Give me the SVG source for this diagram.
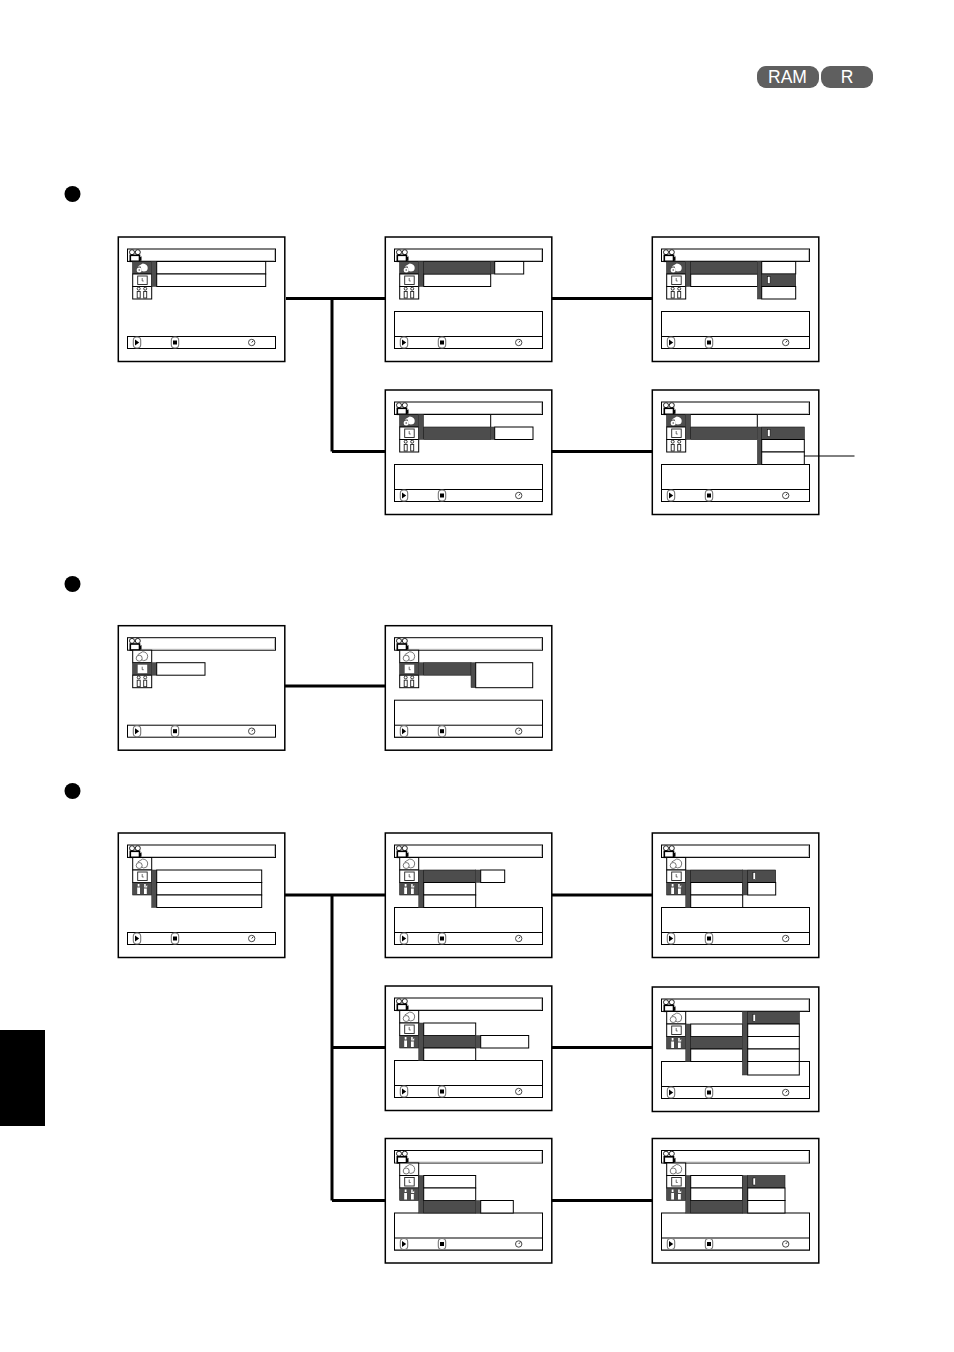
<svg xmlns="http://www.w3.org/2000/svg" xmlns:xlink="http://www.w3.org/1999/xlink" width="954" height="1352" viewBox="0 0 954 1352">
<style>
.fr{fill:#fff;stroke:#000;stroke-width:1.5}
.b{fill:#fff;stroke:#000;stroke-width:1}
.w{fill:#fff;stroke:#000;stroke-width:1}
.d{fill:#4d4d4d;stroke:#111;stroke-width:.6}
.m{fill:#4d4d4d;stroke:#333;stroke-width:.5}
.ol{fill:none;stroke:#555;stroke-width:.8}
.ok{fill:none;stroke:#222;stroke-width:.9}
.wh{fill:#fff}
.conn{fill:none;stroke:#000;stroke-width:3}
.lead{fill:none;stroke:#000;stroke-width:1}
.badge{fill:#5f5f5f}
.bt{font-family:"Liberation Sans",Arial,sans-serif;font-size:17.5px;fill:#fff;text-anchor:middle}
.btn{fill:#fff;stroke:#777;stroke-width:1.1}
</style>
<defs>
<g id="chrome">
<rect class="fr" x="0.300" y="0" width="166.500" height="124.500"/>
<rect class="b" x="9.500" y="12" width="148" height="12.500"/>
<path d="M156.600 13V23.600H10.500" fill="none" stroke="#bbb" stroke-width="1"/>
<circle cx="14" cy="15.200" r="2.500" fill="#fff" stroke="#222" stroke-width="1"/><circle cx="19.800" cy="15.200" r="2.500" fill="#fff" stroke="#222" stroke-width="1"/>
<rect x="12.300" y="18.300" width="9.200" height="6" fill="#fff" stroke="#000" stroke-width="1.600"/>
<path d="M21.500 20.500l2-1.300v4.500h-2z" fill="#000"/>
</g>
<g id="bar">
<rect class="b" x="9.500" y="99.500" width="148" height="12"/>
<rect class="btn" x="15.300" y="100" width="7.400" height="11" rx="3.400"/>
<path d="M17 102.500l4.200 3-4.200 3z" fill="#000"/>
<rect class="btn" x="53.300" y="100" width="7.400" height="11" rx="3.400"/>
<rect x="55" y="103.500" width="4" height="4" fill="#000"/>
<circle cx="133.700" cy="105.500" r="3.200" fill="#fff" stroke="#333" stroke-width=".9"/>
<path d="M133.700 105.500l1.500-1.700" stroke="#000" stroke-width=".8" fill="none"/>
</g>
<rect id="info" class="b" x="9.500" y="74.500" width="148" height="37"/>
<g id="i0w"><rect class="b" width="19" height="12.500"/><path class="ol" d="M5 4.500L10 1.500Q15 2 15 6.500Q15 10.500 11 10.500L9 9.500"/><circle class="ol" cx="6.500" cy="8" r="3"/></g>
<g id="i0d"><rect class="d" width="19" height="12.500"/><path class="wh" d="M5 5L10 2Q15 2.500 15 6.500Q15 10 11 10L9 9.500L8 5z"/><circle class="wh" cx="6.500" cy="8.500" r="2.500"/><circle cx="6.500" cy="8.500" r=".8" fill="#4d4d4d"/></g>
<g id="i1w"><rect class="b" width="19" height="12.500"/><rect x="5" y="2" width="9.500" height="8.500" fill="#fff" stroke="#222" stroke-width=".9"/><path d="M9.500 4v3h1.500" fill="none" stroke="#333" stroke-width=".7"/></g>
<g id="i1d"><rect class="d" width="19" height="12.500"/><rect class="wh" x="5" y="2" width="9.500" height="8.500"/><path d="M9.500 4v3h1.500" fill="none" stroke="#333" stroke-width=".7"/></g>
<g id="i2w"><rect class="b" width="19" height="12.500"/><circle class="ok" cx="6" cy="2.200" r="1.500"/><circle class="ok" cx="12.500" cy="2.200" r="1.500"/><rect class="ok" x="4.500" y="5" width="3" height="6.500"/><rect class="ok" x="11" y="5" width="3" height="6.500"/></g>
<g id="i2d"><rect class="d" width="19" height="12.500"/><rect class="wh" x="5" y="1.500" width="1.800" height="2.500"/><rect class="wh" x="4.500" y="5" width="2.800" height="6.500"/><path class="wh" d="M11.500 1.500h1.500v3l1.500-2v2.500h-3z"/><rect class="wh" x="11.300" y="6" width="2.800" height="5.500"/></g>
<g id="iconsA"><use xlink:href="#i0d" href="#i0d" x="14.700" y="24.500"/><use xlink:href="#i1w" href="#i1w" x="14.700" y="37"/><use xlink:href="#i2w" href="#i2w" x="14.700" y="49.500"/></g>
<g id="iconsB"><use xlink:href="#i0w" href="#i0w" x="14.700" y="24.500"/><use xlink:href="#i1d" href="#i1d" x="14.700" y="37"/><use xlink:href="#i2w" href="#i2w" x="14.700" y="49.500"/></g>
<g id="iconsC"><use xlink:href="#i0w" href="#i0w" x="14.700" y="24.500"/><use xlink:href="#i1w" href="#i1w" x="14.700" y="37"/><use xlink:href="#i2d" href="#i2d" x="14.700" y="49.500"/></g>
<rect id="cursor" x="0" y="0" width="2.600" height="7" fill="#fff" stroke="#000" stroke-width=".5"/>
<g id="mA"><rect class="m" x="33.700" y="24.500" width="5" height="25"/><rect class="w" x="38.700" y="37" width="67" height="12.500"/></g>
<g id="mC"><rect class="m" x="33.700" y="37" width="5" height="37.500"/></g>
</defs>

<rect id="side-tab" x="0" y="1030" width="45" height="96" fill="#000"/>
<g id="badge-ram"><rect class="badge" x="757" y="66" width="62" height="22" rx="9"/><text class="bt" x="787.500" y="83">RAM</text></g>
<g id="badge-r"><rect class="badge" x="821" y="66" width="52" height="22" rx="9"/><text class="bt" x="847" y="83">R</text></g>
<circle id="bullet-1" cx="72.500" cy="194" r="8" fill="#000"/>
<circle id="bullet-2" cx="72.500" cy="584" r="8" fill="#000"/>
<circle id="bullet-3" cx="72.500" cy="791" r="8" fill="#000"/>

<g id="connectors">
<path class="conn" d="M286 298.500H385M332 298.500V451.500M332 451.500H385M552 298.500H652M552 451.500H652"/>
<path class="conn" d="M285 686H385"/>
<path class="conn" d="M285 895H385M332 895V1200.500M332 1047.500H385M332 1200.500H385M552 895H652M552 1047.500H652M552 1200.500H652"/>
</g>

<g id="screen-a1" transform="translate(118,237)">
<use xlink:href="#chrome" href="#chrome"/><use xlink:href="#bar" href="#bar"/><use xlink:href="#iconsA" href="#iconsA"/>
<rect class="m" x="33.700" y="24.500" width="5" height="25"/>
<rect class="w" x="38.700" y="24.500" width="109" height="12.500"/><rect class="w" x="38.700" y="37" width="109" height="12.500"/>
</g>
<g id="screen-a2" transform="translate(385,237)">
<use xlink:href="#chrome" href="#chrome"/><use xlink:href="#info" href="#info"/><use xlink:href="#bar" href="#bar"/><use xlink:href="#iconsA" href="#iconsA"/>
<use xlink:href="#mA" href="#mA"/>
<rect class="d" x="38.700" y="24.500" width="67" height="12.500"/>
<rect class="m" x="105.700" y="24.500" width="4" height="12.500"/>
<rect class="w" x="109.700" y="24.500" width="29" height="12.500"/>
</g>
<g id="screen-a3" transform="translate(652,237)">
<use xlink:href="#chrome" href="#chrome"/><use xlink:href="#info" href="#info"/><use xlink:href="#bar" href="#bar"/><use xlink:href="#iconsA" href="#iconsA"/>
<use xlink:href="#mA" href="#mA"/>
<rect class="d" x="38.700" y="24.500" width="67" height="12.500"/>
<rect class="m" x="105.300" y="24.500" width="4.400" height="37.500"/>
<rect class="w" x="109.700" y="24.500" width="34" height="12.500"/>
<rect class="d" x="109.700" y="37" width="34" height="12.500"/>
<rect class="w" x="109.700" y="49.500" width="34" height="12.500"/>
<use xlink:href="#cursor" href="#cursor" x="115.500" y="39.500"/>
</g>
<g id="screen-a4" transform="translate(385,390)">
<use xlink:href="#chrome" href="#chrome"/><use xlink:href="#info" href="#info"/><use xlink:href="#bar" href="#bar"/><use xlink:href="#iconsA" href="#iconsA"/>
<rect class="m" x="33.700" y="24.500" width="5" height="25"/>
<path class="w" d="M38.700 24.500H105.700V37"/>
<rect class="d" x="38.700" y="37" width="67" height="12.500"/>
<rect class="m" x="105.700" y="37" width="4" height="12.500"/>
<rect class="w" x="109.700" y="37" width="38.300" height="12.500"/>
</g>
<g id="screen-a5" transform="translate(652,390)">
<use xlink:href="#chrome" href="#chrome"/><use xlink:href="#info" href="#info"/><use xlink:href="#bar" href="#bar"/><use xlink:href="#iconsA" href="#iconsA"/>
<rect class="m" x="33.700" y="24.500" width="5" height="25"/>
<path class="w" d="M38.700 24.500H105.300V37"/>
<rect class="d" x="38.700" y="37" width="66.600" height="12.500"/>
<rect class="m" x="105.300" y="37" width="4.400" height="37.500"/>
<rect class="d" x="109.700" y="37" width="42.600" height="12.500"/>
<rect class="w" x="109.700" y="49.500" width="42.600" height="12.500"/>
<rect class="w" x="109.700" y="62" width="42.600" height="12.500"/>
<use xlink:href="#cursor" href="#cursor" x="115.500" y="39.500"/>
</g>

<g id="screen-b1" transform="translate(118,625.700)">
<use xlink:href="#chrome" href="#chrome"/><use xlink:href="#bar" href="#bar"/><use xlink:href="#iconsB" href="#iconsB"/>
<rect class="m" x="33.700" y="37" width="5" height="12.500"/>
<rect class="w" x="38.700" y="37" width="48.300" height="12.500"/>
</g>
<g id="screen-b2" transform="translate(385,625.700)">
<use xlink:href="#chrome" href="#chrome"/><use xlink:href="#info" href="#info"/><use xlink:href="#bar" href="#bar"/><use xlink:href="#iconsB" href="#iconsB"/>
<rect class="m" x="33.700" y="37" width="5" height="12.500"/>
<rect class="d" x="38.700" y="37" width="47.300" height="12.500"/>
<rect class="m" x="86" y="37" width="4.700" height="25"/>
<rect class="w" x="90.700" y="37" width="57" height="25"/>
</g>

<g id="screen-c1" transform="translate(118,833)">
<use xlink:href="#chrome" href="#chrome"/><use xlink:href="#bar" href="#bar"/><use xlink:href="#iconsC" href="#iconsC"/>
<use xlink:href="#mC" href="#mC"/>
<rect class="w" x="38.700" y="37" width="105" height="12.500"/><rect class="w" x="38.700" y="49.500" width="105" height="12.500"/><rect class="w" x="38.700" y="62" width="105" height="12.500"/>
</g>
<g id="screen-c2" transform="translate(385,833)">
<use xlink:href="#chrome" href="#chrome"/><use xlink:href="#info" href="#info"/><use xlink:href="#bar" href="#bar"/><use xlink:href="#iconsC" href="#iconsC"/>
<use xlink:href="#mC" href="#mC"/>
<rect class="d" x="38.700" y="37" width="52" height="12.500"/>
<rect class="w" x="38.700" y="49.500" width="52" height="12.500"/><rect class="w" x="38.700" y="62" width="52" height="12.500"/>
<rect class="m" x="90.700" y="37" width="5" height="12.500"/>
<rect class="w" x="95.700" y="37" width="24" height="12.500"/>
</g>
<g id="screen-c3" transform="translate(652,833)">
<use xlink:href="#chrome" href="#chrome"/><use xlink:href="#info" href="#info"/><use xlink:href="#bar" href="#bar"/><use xlink:href="#iconsC" href="#iconsC"/>
<use xlink:href="#mC" href="#mC"/>
<rect class="d" x="38.700" y="37" width="52" height="12.500"/>
<rect class="w" x="38.700" y="49.500" width="52" height="12.500"/><rect class="w" x="38.700" y="62" width="52" height="12.500"/>
<rect class="m" x="90.700" y="37" width="5" height="25"/>
<rect class="d" x="95.700" y="37" width="28" height="12.500"/>
<rect class="w" x="95.700" y="49.500" width="28" height="12.500"/>
<use xlink:href="#cursor" href="#cursor" x="101" y="39.500"/>
</g>
<g id="screen-c4" transform="translate(385,986)">
<use xlink:href="#chrome" href="#chrome"/><use xlink:href="#info" href="#info"/><use xlink:href="#bar" href="#bar"/><use xlink:href="#iconsC" href="#iconsC"/>
<use xlink:href="#mC" href="#mC"/>
<rect class="w" x="38.700" y="37" width="52" height="12.500"/>
<rect class="d" x="38.700" y="49.500" width="52" height="12.500"/>
<rect class="w" x="38.700" y="62" width="52" height="12.500"/>
<rect class="m" x="90.700" y="49.500" width="5" height="12.500"/>
<rect class="w" x="95.700" y="49.500" width="48" height="12.500"/>
</g>
<g id="screen-c5" transform="translate(652,987)">
<use xlink:href="#chrome" href="#chrome"/><use xlink:href="#info" href="#info"/><use xlink:href="#bar" href="#bar"/><use xlink:href="#iconsC" href="#iconsC"/>
<use xlink:href="#mC" href="#mC"/>
<rect class="w" x="38.700" y="37" width="52" height="12.500"/>
<rect class="d" x="38.700" y="49.500" width="52" height="12.500"/>
<rect class="w" x="38.700" y="62" width="52" height="12.500"/>
<rect class="m" x="90.300" y="24.500" width="5.400" height="63.500"/>
<rect class="d" x="95.700" y="24.500" width="51.600" height="12.500"/>
<rect class="w" x="95.700" y="37" width="51.600" height="12.500"/>
<rect class="w" x="95.700" y="49.500" width="51.600" height="12.500"/>
<rect class="w" x="95.700" y="62" width="51.600" height="12.500"/>
<rect class="w" x="95.700" y="74.500" width="51.600" height="13.500"/>
<use xlink:href="#cursor" href="#cursor" x="101" y="27.300"/>
</g>
<g id="screen-c6" transform="translate(385,1138.500)">
<use xlink:href="#chrome" href="#chrome"/><use xlink:href="#info" href="#info"/><use xlink:href="#bar" href="#bar"/><use xlink:href="#iconsC" href="#iconsC"/>
<use xlink:href="#mC" href="#mC"/>
<rect class="w" x="38.700" y="37" width="52" height="12.500"/>
<rect class="w" x="38.700" y="49.500" width="52" height="12.500"/>
<rect class="d" x="38.700" y="62" width="52" height="12.500"/>
<rect class="m" x="90.700" y="62" width="5" height="12.500"/>
<rect class="w" x="95.700" y="62" width="32.600" height="12.500"/>
</g>
<g id="screen-c7" transform="translate(652,1138.500)">
<use xlink:href="#chrome" href="#chrome"/><use xlink:href="#info" href="#info"/><use xlink:href="#bar" href="#bar"/><use xlink:href="#iconsC" href="#iconsC"/>
<use xlink:href="#mC" href="#mC"/>
<rect class="w" x="38.700" y="37" width="52" height="12.500"/>
<rect class="w" x="38.700" y="49.500" width="52" height="12.500"/>
<rect class="d" x="38.700" y="62" width="52" height="12.500"/>
<rect class="m" x="90.700" y="37" width="5" height="37.500"/>
<rect class="d" x="95.700" y="37" width="37.300" height="12.500"/>
<rect class="w" x="95.700" y="49.500" width="37.300" height="12.500"/>
<rect class="w" x="95.700" y="62" width="37.300" height="12.500"/>
<use xlink:href="#cursor" href="#cursor" x="101" y="39.500"/>
</g>
<path id="leader" class="lead" d="M804 456H854.500"/>
</svg>
